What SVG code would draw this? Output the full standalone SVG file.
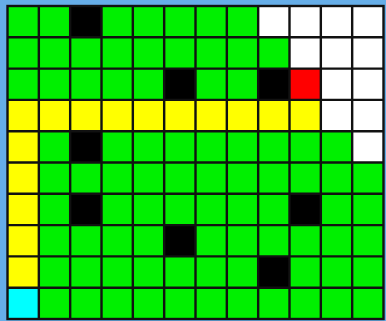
<svg xmlns="http://www.w3.org/2000/svg" width="386" height="321" viewBox="0 0 386 321">
<style>
.g{fill:#00f000}.b{fill:#000}.w{fill:#fff}.y{fill:#ffff00}.r{fill:#ff0000}.c{fill:#00ffff}
.grid{fill:none;stroke:#111;stroke-width:2.4}
</style>
<rect x="0" y="0" width="386" height="321" fill="#66aee8"/>
<g id="cells">
<rect class="g" x="7.5" y="6" width="376" height="313"/>
<rect class="b" x="70.17" y="6" width="31.33" height="31.3"/>
<rect class="w" x="258.17" y="6" width="125.33" height="31.3"/>
<rect class="w" x="289.5" y="37.3" width="94" height="31.3"/>
<rect class="b" x="164.17" y="68.6" width="31.33" height="31.3"/>
<rect class="b" x="258.17" y="68.6" width="31.33" height="31.3"/>
<rect class="r" x="289.5" y="68.6" width="31.33" height="31.3"/>
<rect class="w" x="320.83" y="68.6" width="62.67" height="62.6"/>
<rect class="y" x="7.5" y="99.9" width="313.33" height="31.3"/>
<rect class="y" x="7.5" y="131.2" width="31.33" height="156.5"/>
<rect class="b" x="70.17" y="131.2" width="31.33" height="31.3"/>
<rect class="w" x="352.17" y="131.2" width="31.33" height="31.3"/>
<rect class="b" x="70.17" y="193.8" width="31.33" height="31.3"/>
<rect class="b" x="289.5" y="193.8" width="31.33" height="31.3"/>
<rect class="b" x="164.17" y="225.1" width="31.33" height="31.3"/>
<rect class="b" x="258.17" y="256.4" width="31.33" height="31.3"/>
<rect class="c" x="7.5" y="287.7" width="31.33" height="31.3"/>
</g>
<g id="gridlines">
<path class="grid" d="M38.83 6V319M70.17 6V319M101.5 6V319M132.83 6V319M164.17 6V319M195.5 6V319M226.83 6V319M258.17 6V319M289.5 6V319M320.83 6V319M352.17 6V319M7.5 37.3H383.5M7.5 68.6H383.5M7.5 99.9H383.5M7.5 131.2H383.5M7.5 162.5H383.5M7.5 193.8H383.5M7.5 225.1H383.5M7.5 256.4H383.5M7.5 287.7H383.5"/>
<rect class="grid" x="7.5" y="6" width="376" height="313" stroke-width="2.8"/>
</g>
</svg>
